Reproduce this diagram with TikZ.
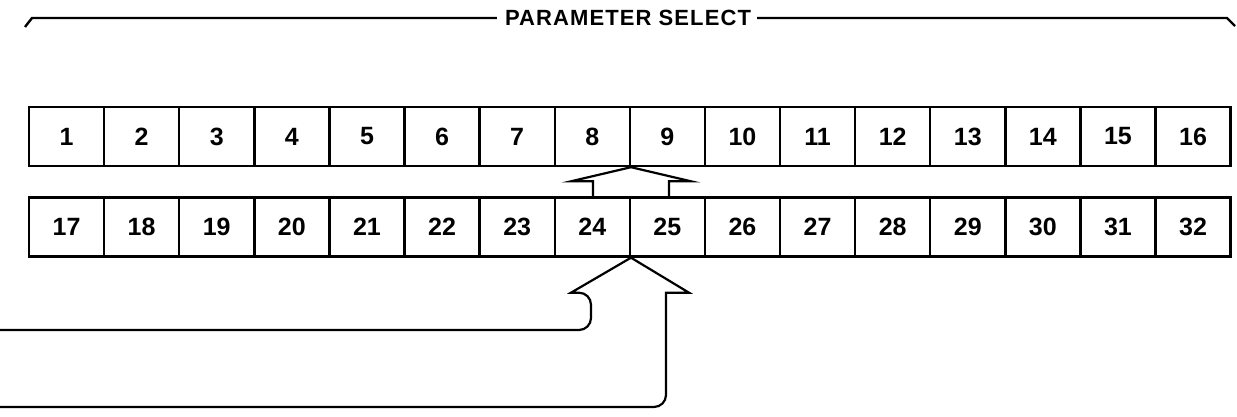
\documentclass[tikz,border=0pt]{standalone}
\usepackage{fontspec}
\setmainfont{Liberation Sans}
\newfontfamily\titlefont[LetterSpace=5]{Liberation Sans}
\usetikzlibrary{calc}
\tikzset{
  parbox/.style={draw, line width=2.4pt, minimum width=75.1pt, minimum height=59pt,
    inner sep=0pt, font=\fontsize{25}{25}\selectfont\bfseries},
  pointer/.style={line width=2.2pt, line join=miter},
  bracket/.style={line width=2.4pt},
}
\begin{document}
\begin{tikzpicture}[x=1pt,y=-1pt]
\useasboundingbox (0,0) rectangle (1237,417);
% title bracket
\node[font=\titlefont\fontsize{22}{22}\selectfont\bfseries, inner sep=0pt] (title) at (628,18) {PARAMETER SELECT};
\draw[bracket] (25,27) -- (32,18) -- ($(title.west)+(-8,0)$);
\draw[bracket] ($(title.east)+(6,0)$) -- (1227,18) -- (1235,26);
% parameter rows
\foreach \i in {1,...,16}
  \node[parbox] (p\i) at ({29+75.1*(\i-0.5)},136.5) {\i};
\foreach \i in {17,...,32}
  \node[parbox] (p\i) at ({29+75.1*(\i-16.5)},227) {\i};
% small arrow between rows
\draw[pointer] ($(p24.north east)+(-38,0)$) -- ++(0,-15) -- ++(-22,0) -- (p8.south east)
  -- ($(p24.north east)+(60,-15)$) -- ++(-22,0) -- ($(p24.north east)+(38,0)$);
% input arrow
\coordinate (in1) at (0,330);
\coordinate (in2) at (0,407);
\draw[pointer] (in1) [rounded corners=12pt] -| ($(p24.south east)+(-40,35)$) [sharp corners]
  -- ++(-20,0) -- (p24.south east) -- ($(p24.south east)+(58,35)$) -- ++(-23,0)
  -- ++(0,10) [rounded corners=12pt] |- (in2);
\end{tikzpicture}
\end{document}
